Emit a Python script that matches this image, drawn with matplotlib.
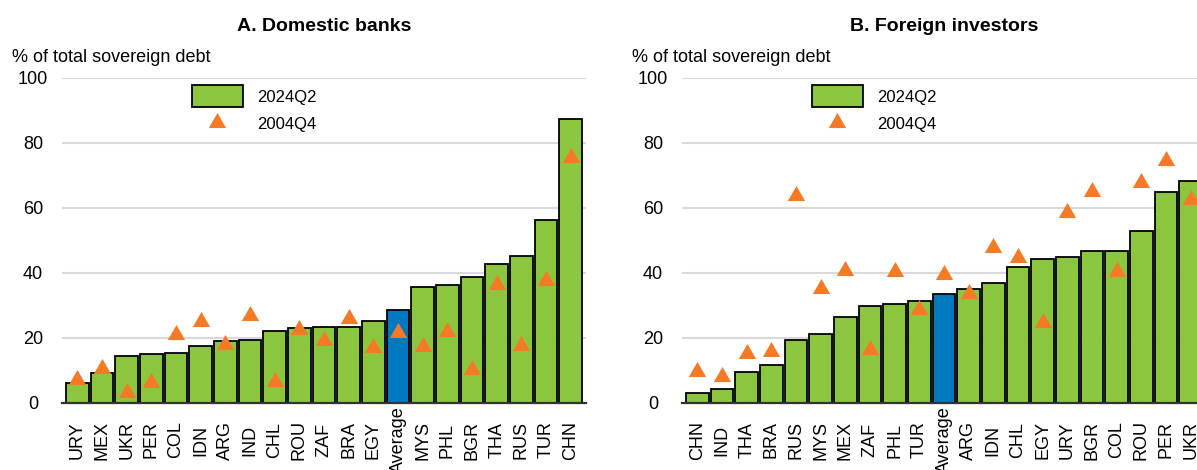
import matplotlib
matplotlib.use("Agg")
import matplotlib.pyplot as plt
import numpy as np
from matplotlib.patches import Patch
from matplotlib.lines import Line2D

plt.rcParams["font.family"] = ["Liberation Sans", "DejaVu Sans"]

# Panel A: domestic banks
dom_countries = ["URY", "MEX", "UKR", "PER", "COL", "IDN", "ARG", "IND", "CHL", "ROU", "ZAF",
                 "BRA", "EGY", "Average", "MYS", "PHL", "BGR", "THA", "RUS", "TUR", "CHN"]
dom_2024 = [5.9, 9.0, 14.2, 15.0, 15.2, 17.5, 18.8, 19.1, 22.1, 22.9, 23.2,
            23.3, 25.2, 28.6, 35.7, 36.1, 38.7, 42.6, 45.1, 56.1, 87.3]
dom_2004 = [8.0, 11.2, 4.0, 7.0, 21.7, 25.8, 18.7, 27.5, 7.2, 23.1, 19.8,
            26.7, 17.8, 22.2, 17.9, 22.5, 11.0, 37.1, 18.2, 38.2, 76.1]

# Panel B: foreign investors
for_countries = ["CHN", "IND", "THA", "BRA", "RUS", "MYS", "MEX", "ZAF", "PHL", "TUR", "Average",
                 "ARG", "IDN", "CHL", "EGY", "URY", "BGR", "COL", "ROU", "PER", "UKR"]
for_2024 = [2.9, 4.3, 9.4, 11.4, 19.4, 21.1, 26.4, 29.7, 30.2, 31.2, 33.5,
            35.1, 36.9, 41.8, 44.3, 44.7, 46.8, 46.8, 52.8, 64.9, 68.3]
for_2004 = [10.4, 8.9, 15.8, 16.6, 64.4, 35.8, 41.4, 17.0, 41.2, 29.5, 40.3,
            34.2, 48.4, 45.5, 25.3, 59.3, 65.7, 41.1, 68.6, 75.2, 63.2]

GREEN = "#8CC63F"
BLUE = "#0079C1"
ORANGE = "#F47A25"
TRI = [(0, 0.87), (-1, -0.87), (1, -0.87)]

W, H = 1197, 470
fig = plt.figure(figsize=(W / 100, H / 100), dpi=100)

panels = [
    ("A. Domestic banks", dom_countries, dom_2024, dom_2004, 62),
    ("B. Foreign investors", for_countries, for_2024, for_2004, 682),
]

for title, cats, v24, v04, left_px in panels:
    ax = fig.add_axes([left_px / W, 1 - 402.5 / H, 524 / W, 324.7 / H])
    x = np.arange(len(cats))
    colors = [BLUE if c == "Average" else GREEN for c in cats]
    ax.bar(x, v24, width=0.92, color=colors, edgecolor="black", linewidth=1.3, zorder=2)
    ax.plot(x, v04, linestyle="none", marker=TRI, markersize=12.5, color=ORANGE,
            markeredgewidth=0, zorder=3)

    ax.set_xlim(-0.62, len(cats) - 0.38)
    ax.set_ylim(0, 100)
    ax.set_yticks([0, 20, 40, 60, 80, 100])
    ax.grid(axis="y", color="#D9D9D9", linewidth=1.5, zorder=0)
    ax.set_axisbelow(True)
    for s in ["left", "right", "top"]:
        ax.spines[s].set_visible(False)
    ax.spines["bottom"].set_color("#333333")
    ax.spines["bottom"].set_linewidth(1.6)
    ax.spines["bottom"].set_zorder(4)

    ax.tick_params(axis="y", length=0, pad=21, labelsize=13)
    for lab in ax.get_yticklabels():
        lab.set_ha("center")
    ax.set_xticks(x)
    ax.set_xticklabels(cats, rotation=90, fontsize=13)
    ax.tick_params(axis="x", length=0, pad=27)
    for lab in ax.get_xticklabels():
        lab.set_va("center")

    ax.set_title(title, fontsize=14, fontweight="bold", pad=34)
    fig.text((left_px - 50) / W, 1 - 62 / H, "% of total sovereign debt",
             fontsize=13, va="baseline", ha="left")

    handles = [Patch(facecolor=GREEN, edgecolor="black", linewidth=1.3),
               Line2D([], [], linestyle="none", marker=TRI, markersize=12.5,
                      color=ORANGE, markeredgewidth=0)]
    ax.legend(handles, ["2024Q2", "2004Q4"], loc="upper left",
              bbox_to_anchor=(130 / 524, 0.978), borderaxespad=0, borderpad=0,
              frameon=False, fontsize=12, handlelength=3.05, handleheight=1.7,
              labelspacing=0.27, handletextpad=0.84)

plt.savefig("out.png", dpi=100)
